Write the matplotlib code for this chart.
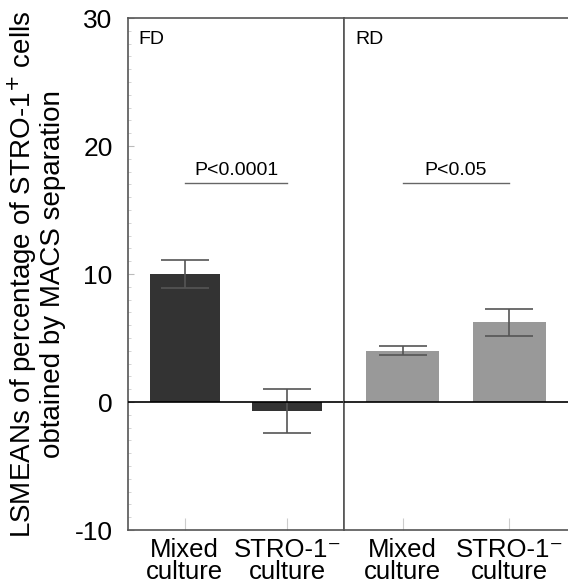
import matplotlib.pyplot as plt
from matplotlib.ticker import MultipleLocator

plt.rcParams['font.family'] = ['Liberation Sans', 'DejaVu Sans']
plt.rcParams['axes.unicode_minus'] = False

# Data
groups = ['FD', 'RD']
categories = ['Mixed\nculture', 'STRO-1\u207b\nculture']
fd_means = [10.0, -0.73]
fd_err = [1.13, 1.72]
rd_means = [4.0, 6.23]
rd_err = [0.35, 1.05]
p_values = ['P<0.0001', 'P<0.05']
p_height = 17.1

means = [fd_means, rd_means]
errs = [fd_err, rd_err]
bar_colors = ['#333333', '#999999']

fig = plt.figure(figsize=(5.68, 5.87), dpi=100)
left, bottom, top = 128 / 568, 57 / 587, 569 / 587
mid = 344 / 568
ax1 = fig.add_axes([left, bottom, mid - left, top - bottom])
ax2 = fig.add_axes([mid, bottom, 1.0 - mid, top - bottom], sharey=ax1)

for i, ax in enumerate([ax1, ax2]):
    x = [0, 1]
    ax.bar(x, means[i], width=0.68, color=bar_colors[i], zorder=2)
    ax.errorbar(x, means[i], yerr=errs[i], fmt='none', ecolor='#555555',
                elinewidth=1.2, capsize=17, capthick=1.2, zorder=3)
    ax.axhline(0, color='black', lw=1.2, zorder=4)
    ax.set_xlim(-0.55, 1.55)
    ax.set_xticks(x)
    ax.set_xticklabels(categories, fontsize=18.5, linespacing=0.88)
    ax.tick_params(axis='x', direction='in', length=9, color='#cccccc', pad=6)
    ax.text(0.05, 0.975, groups[i], transform=ax.transAxes, fontsize=14,
            va='top', ha='left')
    ax.plot([0, 1], [p_height, p_height], color='#666666', lw=1)
    ax.text(0.5, p_height + 0.3, p_values[i], ha='center', va='bottom',
            fontsize=14)
    for s in ['top', 'bottom', 'left', 'right']:
        ax.spines[s].set_color('#555555')
        ax.spines[s].set_linewidth(1.2)

ax2.spines['right'].set_visible(False)
ax2.tick_params(axis='y', left=False, labelleft=False, which='both')

ax1.set_ylim(-10, 30)
ax1.set_yticks([-10, 0, 10, 20, 30])
ax1.yaxis.set_minor_locator(MultipleLocator(1))
ax1.tick_params(axis='y', which='major', direction='in', length=4,
                color='#bbbbbb', labelsize=19, pad=11)
ax1.tick_params(axis='y', which='minor', direction='in', length=2,
                color='#cccccc')
ax1.set_ylabel('LSMEANs of percentage of STRO-1$^{+}$ cells\nobtained by MACS separation',
               fontsize=20, labelpad=6, linespacing=1.05)

fig.savefig('out.png', dpi=100)
